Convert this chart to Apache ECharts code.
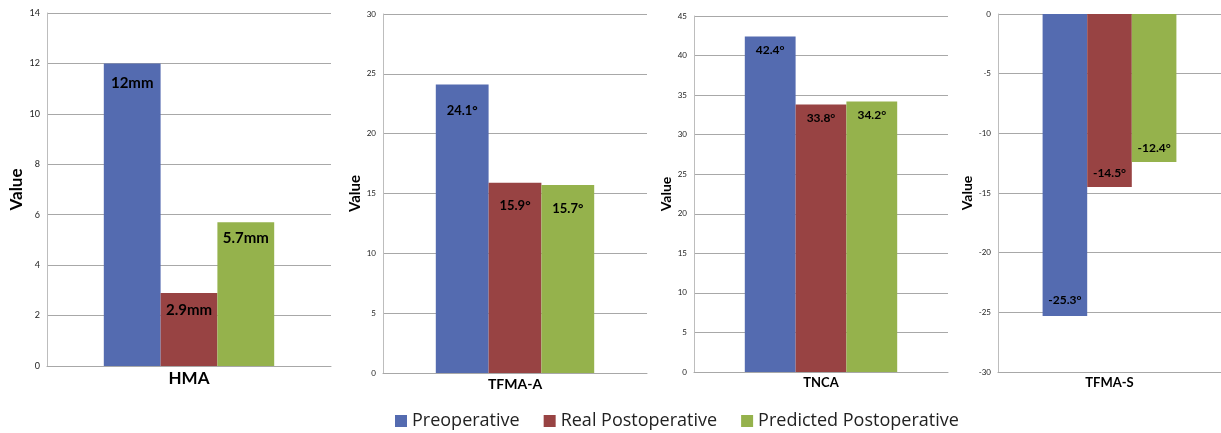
<!DOCTYPE html>
<html>
<head>
<meta charset="utf-8">
<script src="https://cdn.jsdelivr.net/npm/echarts@6/dist/echarts.min.js"></script>
<style>
  html, body { margin: 0; padding: 0; background: #ffffff; }
  #chart { width: 1221px; height: 433px; }
</style>
</head>
<body>
<div id="chart"></div>
<script>
// Measurements compared before and after surgery
const panels = ['HMA', 'TFMA-A', 'TNCA', 'TFMA-S'];
const seriesNames = ['Preoperative', 'Real Postoperative', 'Predicted Postoperative'];
const preoperative = [12, 24.1, 42.4, -25.3];
const realPostoperative = [2.9, 15.9, 33.8, -14.5];
const predictedPostoperative = [5.7, 15.7, 34.2, -12.4];
const units = ['mm', '°', '°', '°'];
const axisMin = [0, 0, 0, -30];
const axisMax = [14, 30, 45, 0];
const axisStep = [2, 5, 5, 5];
const axisTitle = 'Value';

const values = [preoperative, realPostoperative, predictedPostoperative];
const colors = ['#546bb0', '#984343', '#95b24c'];

// Panel geometry and text sizes
const layout = [
  { left: 47,  top: 13, width: 284, height: 353, tick: 9, cat: 17, name: 17, nameGap: 22, label: 15, dist: [12, 10, 8] },
  { left: 383, top: 14, width: 264, height: 359, tick: 8, cat: 14, name: 15, nameGap: 20, label: 13, dist: [20, 17, 17] },
  { left: 694, top: 16, width: 254, height: 356, tick: 8, cat: 13, name: 14, nameGap: 17, label: 12, dist: [8, 8, 8] },
  { left: 998, top: 14, width: 223, height: 358, tick: 8, cat: 13, name: 14, nameGap: 20, label: 12, dist: [10, 8, 8] }
];

const FONT = 'Lato, "Open Sans", sans-serif';

const grid = [], xAxis = [], yAxis = [], series = [];
panels.forEach((p, i) => {
  const L = layout[i];
  grid.push({ left: L.left, top: L.top, width: L.width, height: L.height, containLabel: false });
  xAxis.push({
    type: 'category', gridIndex: i, data: [p],
    axisLine: { onZero: false, lineStyle: { color: '#a8a8a8', width: 1 } },
    axisTick: { show: false },
    axisLabel: { margin: 4, fontSize: L.cat, fontWeight: 'bold', color: '#000', fontFamily: FONT }
  });
  yAxis.push({
    type: 'value', gridIndex: i, min: axisMin[i], max: axisMax[i], interval: axisStep[i],
    name: axisTitle, nameLocation: 'middle', nameGap: L.nameGap,
    nameTextStyle: { fontSize: L.name, fontWeight: 'bold', color: '#000', fontFamily: FONT },
    axisLine: { show: true, lineStyle: { color: '#bdbdbd', width: 1 } },
    axisTick: { show: false },
    axisLabel: { margin: 7, fontSize: L.tick, color: '#222', fontFamily: FONT },
    splitLine: { show: true, lineStyle: { color: '#a8a8a8', width: 1 } }
  });
  seriesNames.forEach((name, s) => {
    const v = values[s][i];
    series.push({
      type: 'bar', name, xAxisIndex: i, yAxisIndex: i,
      data: [v],
      barGap: '0%', barCategoryGap: '40%',
      itemStyle: { color: colors[s] },
      label: {
        show: true,
        position: v < 0 ? 'insideBottom' : 'insideTop',
        distance: L.dist[s],
        fontSize: L.label, fontWeight: 'bold', color: '#000', fontFamily: FONT,
        formatter: () => v + units[i]
      }
    });
  });
});

const chart = echarts.init(document.getElementById('chart'), null, { renderer: 'canvas' });
chart.setOption({
  animation: false,
  backgroundColor: '#ffffff',
  grid, xAxis, yAxis, series,
  legend: {
    data: seriesNames,
    left: 390, top: 407,
    itemWidth: 12, itemHeight: 12, itemGap: 24,
    icon: 'rect',
    textStyle: { fontSize: 18, color: '#222', fontFamily: '"Open Sans", sans-serif' }
  }
});
</script>
</body>
</html>
